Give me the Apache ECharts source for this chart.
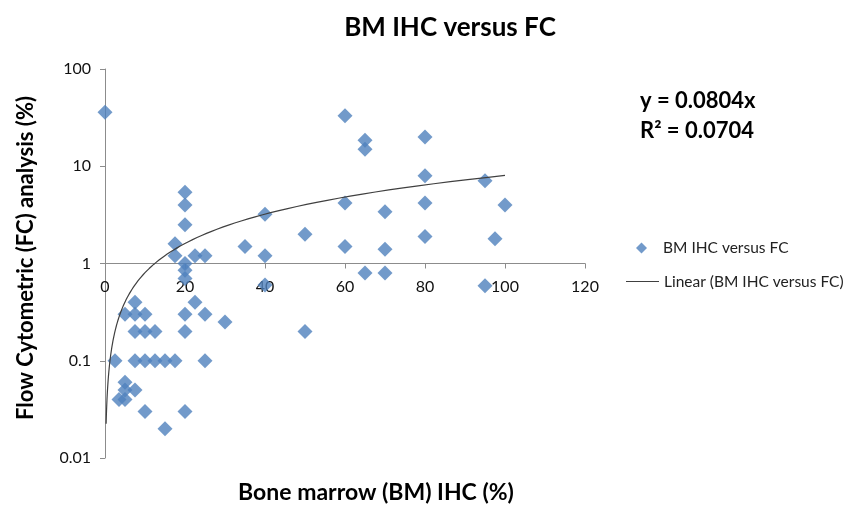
<!DOCTYPE html>
<html><head><meta charset="utf-8">
<script src="https://cdn.jsdelivr.net/npm/echarts@6/dist/echarts.min.js"></script>
<style>html,body{margin:0;padding:0;background:#fff}#c{width:862px;height:506px}</style>
</head><body><div id="c"></div>
<script>
// Bone marrow IHC (%) values (x) and Flow cytometry (%) values (y)
const bmIhc = [0, 2.5, 3.5, 5, 5, 5, 5, 7.5, 7.5, 7.5, 7.5, 7.5, 10, 10, 10, 10, 12.5, 12.5, 15, 15, 17.5, 17.5, 17.5,
  20, 20, 20, 20, 20, 20, 20, 20, 20, 22.5, 22.5, 25, 25, 25, 30, 35, 40, 40, 40, 50, 50,
  60, 60, 60, 65, 65, 65, 70, 70, 70, 80, 80, 80, 80, 95, 95, 97.5, 100];
const fcValues = [36, 0.1, 0.04, 0.04, 0.05, 0.06, 0.3, 0.05, 0.1, 0.2, 0.3, 0.4, 0.03, 0.1, 0.2, 0.3, 0.1, 0.2, 0.02, 0.1, 0.1, 1.2, 1.6,
  0.03, 0.2, 0.3, 0.7, 0.85, 1.0, 2.5, 4, 5.4, 0.4, 1.2, 0.1, 0.3, 1.2, 0.25, 1.5, 0.6, 1.2, 3.2, 0.2, 2.0,
  1.5, 4.2, 33, 0.8, 15, 18.5, 0.8, 1.4, 3.4, 1.9, 4.2, 8, 20, 0.59, 7.1, 1.8, 4];
const xTicks = [0, 20, 40, 60, 80, 100, 120];
const yTicks = [0.01, 0.1, 1, 10, 100];
const trendSlope = 0.0804;
const rSquared = 0.0704;
const trendStartX = 0.28;
const trendEndX = 100;

const seriesName = 'BM IHC versus FC';
const trendName = 'Linear (BM IHC versus FC)';

const scatterData = bmIhc.map((x, i) => [x, fcValues[i]]);
const trendData = [];
const N = 120;
for (let i = 0; i <= N; i++) {
  const x = trendStartX * Math.pow(trendEndX / trendStartX, i / N);
  trendData.push([x, trendSlope * x]);
}

const FONT = 'Lato, "Open Sans", sans-serif';
const axisGray = '#8c8c8c';
const lineColor = '#404040';
const chart = echarts.init(document.getElementById('c'));
chart.setOption({
  animation: false,
  backgroundColor: '#fff',
  grid: { left: 105, right: 277, top: 69, bottom: 48 },
  xAxis: {
    type: 'value', min: xTicks[0], max: xTicks[xTicks.length - 1], interval: 20,
    position: 'bottom', offset: -194.5,
    axisLine: { onZero: false, lineStyle: { color: axisGray, width: 1 } },
    axisTick: { show: true, length: 5, lineStyle: { color: axisGray } },
    axisLabel: { fontFamily: FONT, fontSize: 16, color: '#111', margin: 15 },
    splitLine: { show: false }
  },
  yAxis: {
    type: 'log', logBase: 10, min: yTicks[0], max: yTicks[yTicks.length - 1],
    axisLine: { show: true, lineStyle: { color: axisGray, width: 1 } },
    axisTick: { show: true, length: 5, lineStyle: { color: axisGray } },
    axisLabel: { fontFamily: FONT, fontSize: 16, color: '#111', margin: 14,
      formatter: v => String(Number(v.toPrecision(3))) },
    splitLine: { show: false },
    minorTick: { show: false }
  },
  legend: [
    { data: [{ name: seriesName, icon: 'diamond' }], orient: 'vertical', left: 636, top: 240, padding: 0,
      itemWidth: 11, itemHeight: 11,
      textStyle: { fontFamily: FONT, fontSize: 15.5, color: '#222', padding: [0, 0, 0, 11] } },
    { data: [{ name: trendName, icon: 'rect', itemStyle: { color: lineColor } }], orient: 'vertical', left: 626, top: 273.5, padding: 0,
      itemWidth: 33, itemHeight: 1.2,
      textStyle: { fontFamily: FONT, fontSize: 15.5, color: '#222' } }
  ],
  series: [
    { name: seriesName, type: 'scatter', data: scatterData, symbol: 'diamond', symbolSize: 15,
      itemStyle: { color: '#4F81BD' }, z: 2 },
    { name: trendName, type: 'line', data: trendData, symbol: 'none', smooth: false,
      lineStyle: { color: lineColor, width: 1.2 }, itemStyle: { color: lineColor }, z: 3 }
  ],
  graphic: [
    { type: 'text', x: 450, y: 28, style: { text: 'BM IHC versus FC', font: 'bold 26px ' + FONT, fill: '#000', align: 'center', verticalAlign: 'middle' } },
    { type: 'text', x: 640, y: 101, style: { text: 'y = ' + trendSlope + 'x', font: 'bold 22px ' + FONT, fill: '#000', align: 'left', verticalAlign: 'middle' } },
    { type: 'text', x: 640, y: 131, style: { text: 'R\u00B2 = ' + rSquared, font: 'bold 22px ' + FONT, fill: '#000', align: 'left', verticalAlign: 'middle' } },
    { type: 'text', x: 376, y: 493, style: { text: 'Bone marrow (BM) IHC (%)', font: 'bold 23px ' + FONT, fill: '#000', align: 'center', verticalAlign: 'middle' } },
    { type: 'text', x: 26, y: 258, rotation: Math.PI / 2, style: { text: 'Flow Cytometric (FC) analysis (%)', font: 'bold 22px ' + FONT, fill: '#000', align: 'center', verticalAlign: 'middle' } }
  ]
});
</script></body></html>
